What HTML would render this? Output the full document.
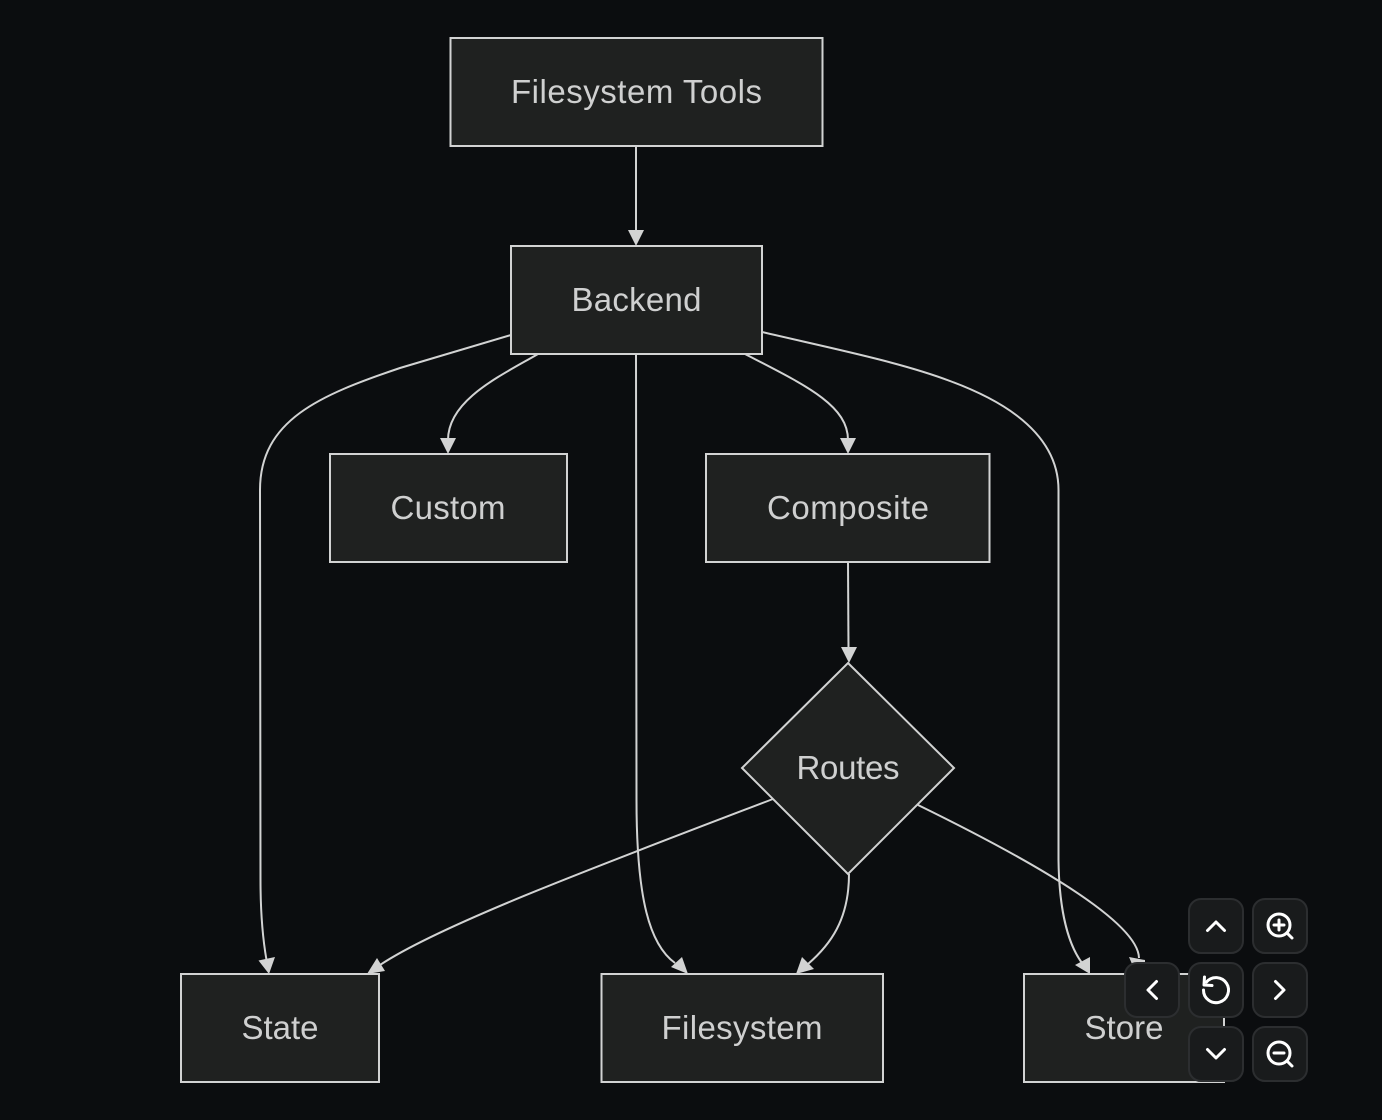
<!DOCTYPE html>
<html>
<head>
<meta charset="utf-8">
<style>
html,body{margin:0;padding:0;background:#0b0d0f;}
svg{display:block;}
text{font-family:"Liberation Sans",sans-serif;font-size:33px;fill:#cfd0d0;text-anchor:middle;}
.n{fill:#1f2120;stroke:#d2d3d3;stroke-width:2;}
.e{fill:none;stroke:#d2d3d3;stroke-width:2;}
.a{fill:#d2d3d3;stroke:none;}
.b{fill:#191b1c;stroke:#2c2e30;stroke-width:2;}
.i{fill:none;stroke:#ffffff;stroke-width:3;stroke-linecap:round;stroke-linejoin:round;}
</style>
</head>
<body>
<svg width="1382" height="1120" viewBox="0 0 1382 1120" xmlns="http://www.w3.org/2000/svg">
<rect width="1382" height="1120" fill="#0b0d0f"/>

<!-- edges -->
<path class="e" d="M636,146 L636,232"/>
<path class="e" d="M511,335 L400,368 C320,395 260,420 260,490 L260.500,880 C260.500,915 263,940 266.500,960"/>
<path class="e" d="M538,354 C500,376 448,400 448,440"/>
<path class="e" d="M636,354 L636.500,800 C636.500,900 650,945 675,963"/>
<path class="e" d="M745,354 C805,385 848,405 848,440"/>
<path class="e" d="M762,332 C830,348 900,362 950,381 C985,394 1058.500,425 1058.500,490 L1058.500,860 C1059,900 1065,940 1082,963"/>
<path class="e" d="M848,562 L848.500,650"/>
<path class="e" d="M773,799 C600,865 440,925 380,965"/>
<path class="e" d="M849,874 C849,920 830,945 808,964"/>
<path class="e" d="M918,805 C1010,850 1138,918 1139,958"/>

<!-- arrowheads -->
<polygon class="a" points="636,246 628,230 644,230"/>
<polygon class="a" points="269,974 258.500,960.500 275,957"/>
<polygon class="a" points="448,454 440,438 456,438"/>
<polygon class="a" points="688,974 671,967 682,957"/>
<polygon class="a" points="848,454 840,438 856,438"/>
<polygon class="a" points="1090,974 1075,965 1090,957"/>
<polygon class="a" points="849,663 841,647 857,647"/>
<polygon class="a" points="367,974 377,958 385,971"/>
<polygon class="a" points="796,974 802,957 814,969"/>
<polygon class="a" points="1129,957 1145,960 1145,964 1132,964"/>

<!-- nodes -->
<rect class="n" x="450.500" y="38" width="372" height="108"/>
<text x="636.500" y="103" textLength="251" lengthAdjust="spacing">Filesystem Tools</text>

<rect class="n" x="511" y="246" width="251" height="108"/>
<text x="636.500" y="311" textLength="130" lengthAdjust="spacing">Backend</text>

<rect class="n" x="330" y="454" width="237" height="108"/>
<text x="448" y="519" textLength="115" lengthAdjust="spacing">Custom</text>

<rect class="n" x="706" y="454" width="283.500" height="108"/>
<text x="848" y="519" textLength="162" lengthAdjust="spacing">Composite</text>

<polygon class="n" points="848,663 954,768 848,874 742,768"/>
<text x="848" y="779" textLength="103" lengthAdjust="spacing">Routes</text>

<rect class="n" x="181" y="974" width="198" height="108"/>
<text x="280" y="1039" textLength="77" lengthAdjust="spacing">State</text>

<rect class="n" x="601.500" y="974" width="281.500" height="108"/>
<text x="742" y="1039" textLength="161" lengthAdjust="spacing">Filesystem</text>

<rect class="n" x="1024" y="974" width="200" height="108"/>
<text x="1124" y="1039" textLength="79" lengthAdjust="spacing">Store</text>

<!-- controls -->
<rect class="b" x="1189" y="899" width="54" height="54" rx="12"/>
<rect class="b" x="1253" y="899" width="54" height="54" rx="12"/>
<rect class="b" x="1125" y="963" width="54" height="54" rx="12"/>
<rect class="b" x="1189" y="963" width="54" height="54" rx="12"/>
<rect class="b" x="1253" y="963" width="54" height="54" rx="12"/>
<rect class="b" x="1189" y="1027" width="54" height="54" rx="12"/>
<rect class="b" x="1253" y="1027" width="54" height="54" rx="12"/>

<!-- up -->
<path class="i" d="M1207.500,930.500 L1216,922 L1224.500,930.500"/>
<!-- zoom in -->
<circle class="i" cx="1279" cy="925" r="11"/>
<path class="i" d="M1287.500,933.500 L1292,938 M1279,920 L1279,930 M1274,925 L1284,925"/>
<!-- left -->
<path class="i" d="M1156.500,981.500 L1148,990 L1156.500,998.500"/>
<!-- reset -->
<path class="i" d="M1206.500,982 A12.500,12.500 0 1 1 1203.500,990"/>
<path class="i" d="M1204.500,977 L1204,985 L1212,985.500"/>
<!-- right -->
<path class="i" d="M1275.500,981.500 L1284,990 L1275.500,998.500"/>
<!-- down -->
<path class="i" d="M1207.500,1049.500 L1216,1058 L1224.500,1049.500"/>
<!-- zoom out -->
<circle class="i" cx="1279" cy="1053" r="11"/>
<path class="i" d="M1287.500,1061.500 L1292,1066 M1274,1053 L1284,1053"/>
</svg>
</body>
</html>
